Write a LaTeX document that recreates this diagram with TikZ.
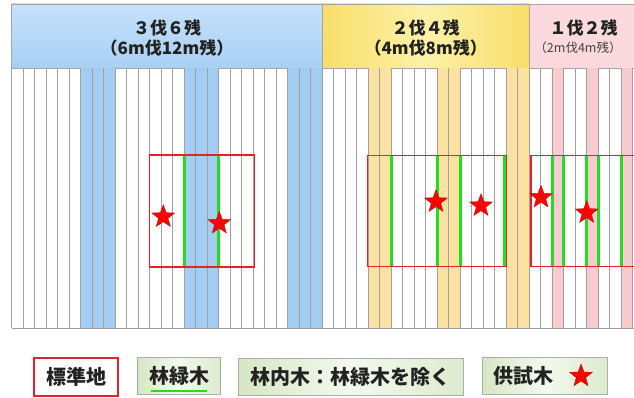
\documentclass[tikz,border=0pt]{standalone}
\usepackage{fontspec}
\setmainfont{Noto Sans CJK JP}[BoldFont={Noto Sans CJK JP Black}]
\usetikzlibrary{shapes.geometric}
\definecolor{gridgray}{HTML}{A0A0A0}
\definecolor{cutblue}{HTML}{A3CDF3}
\definecolor{hdrblue}{HTML}{A8D0F5}
\definecolor{hdrblueL}{HTML}{C6E1FA}
\definecolor{cutyellow}{HTML}{FBE2A2}
\definecolor{hdryel}{HTML}{F8DE6A}
\definecolor{hdryelL}{HTML}{FDF1A8}
\definecolor{cutpink}{HTML}{F9CACE}
\definecolor{hdrpink}{HTML}{FCD9DC}
\definecolor{edgegreen}{HTML}{22DD22}
\definecolor{plotred}{HTML}{E8202A}
\definecolor{txt}{HTML}{222222}
\definecolor{legA}{HTML}{D6E7C4}
\definecolor{legB}{HTML}{F4F8EE}
\tikzset{
  gridline/.style={draw=gridgray, line width=0.75pt},
  hdrbox/.style={draw=gray!70, line width=0.6pt, inner sep=0pt, minimum height=64pt},
  hdrtxt/.style={text=txt, font=\fontsize{17}{20}\selectfont\bfseries, inner sep=0pt},
  hdrsmall/.style={text=txt!85, font=\fontsize{12.5}{15}\selectfont, inner sep=0pt},
  plotbox/.style={draw=plotred, line width=1.2pt, inner sep=0pt},
  edgeline/.style={draw=edgegreen, line width=2.8pt},
  startree/.style={star, star points=5, star point ratio=2.4, fill=red, draw=red!70!black, line width=0.3pt, minimum size=24pt, inner sep=0pt},
  legbox/.style={draw=gray!65, line width=1pt, left color=legA, right color=legA!85, middle color=legB, inner sep=0pt, minimum height=37pt, text=txt, font=\fontsize{20}{23}\selectfont\bfseries},
}
\begin{document}
\begin{tikzpicture}[x=1pt,y=-1pt]
\useasboundingbox (0,0) rectangle (634,398);
\begin{scope}
\clip (0,0) rectangle (634,398);
% header boxes
\node[hdrbox, top color=hdrblueL, bottom color=hdrblue, minimum width=310.5pt] (h1) at (166.95,36) {};
\node[hdrbox, left color=hdryel, right color=hdryel, middle color=hdryelL, minimum width=207pt] (h2) at (425.7,36) {};
\node[hdrbox, fill=hdrpink, minimum width=120pt] (h3) at (589.2,36) {};
% header texts
\node[hdrtxt] (t1a) at (167,28) {３伐６残};
\node[hdrtxt] (t1b) at (167,48) {（6m伐12m残）};
\node[hdrtxt] (t2a) at (425.7,28) {２伐４残};
\node[hdrtxt] (t2b) at (425.7,48) {（4m伐8m残）};
\node[hdrtxt] (t3a) at (583.5,28) {１伐２残};
\node[hdrsmall] (t3b) at (578,48) {（2m伐4m残）};
% cut strips
\foreach \k in {6,7,8,15,16,17,24,25,26}
  \fill[cutblue] ({11.7+\k*11.5},68) rectangle +(11.5,260);
\foreach \k in {31,32,37,38,43,44}
  \fill[cutyellow] ({11.7+\k*11.5},68) rectangle +(11.5,260);
\foreach \k in {47,50,53}
  \fill[cutpink] ({11.7+\k*11.5},68) rectangle +(11.5,260);
% tree row lines
\foreach \k in {0,...,54}
  \draw[gridline] ({11.7+\k*11.5},68) -- ({11.7+\k*11.5},328);
\draw[gridline] (11.7,328) -- (634,328);
% forest-edge rows (green)
\foreach \xx in {184.2,218.7,391.2,437.2,460.2,504.6,552.2,563.7,586.7,598.2,621.2}
  \draw[edgeline] (\xx,155) -- (\xx,267);
% plots
\node[plotbox, minimum width=104.5pt, minimum height=112pt] (r1) at (201.95,211) {};
\node[plotbox, minimum width=139pt, minimum height=111.5pt] (r2) at (437,211) {};
\node[plotbox, minimum width=110pt, minimum height=111.5pt] (r3) at (586,211) {};
% sample trees
\node[startree] (s1) at (163.3,216.7) {};
\node[startree] (s2) at (219.3,223.3) {};
\node[startree] (s3) at (436,201.7) {};
\node[startree] (s4) at (481,205.7) {};
\node[startree] (s5) at (541,197.3) {};
\node[startree] (s6) at (586.7,212.7) {};
\end{scope}
% legend
\node[draw=plotred, line width=1.5pt, fill=white, inner sep=0pt, minimum width=84pt, minimum height=38pt, text=txt, font=\fontsize{20}{23}\selectfont\bfseries] (l1) at (76,377) {標準地};
\node[legbox, minimum width=83pt] (l2) at (179,375.5) {林緑木};
\draw[edgegreen, line width=2pt] ([xshift=-28pt,yshift=-15pt]l2.center) -- ([xshift=28pt,yshift=-15pt]l2.center);
\node[legbox, minimum width=225pt] (l3) at (350.5,376.5) {林内木：林緑木を除く};
\node[legbox, minimum width=125pt, text width=110pt, align=left] (l4) at (544.5,376) {\hspace*{4pt}供試木};
\node[startree] (l4s) at (581,376) {};
\end{tikzpicture}
\end{document}
